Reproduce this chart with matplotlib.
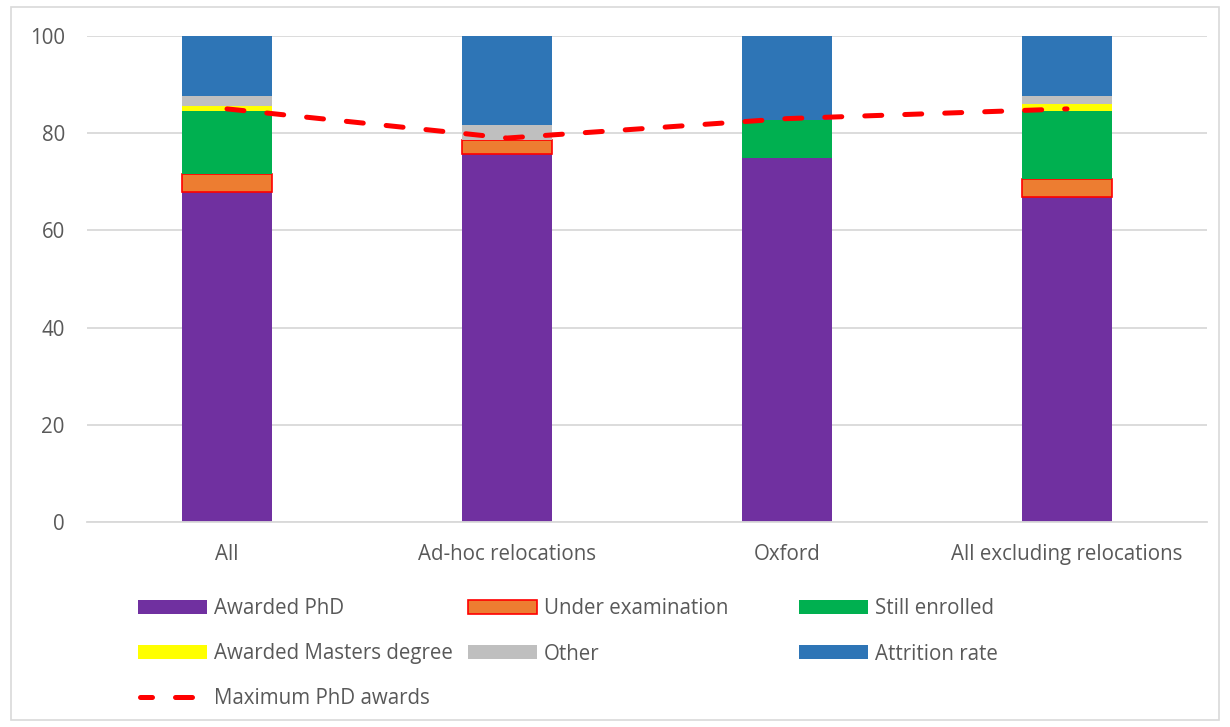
import matplotlib
matplotlib.use("Agg")
import matplotlib.pyplot as plt
from matplotlib.patches import Rectangle
from matplotlib.lines import Line2D
import numpy as np

plt.rcParams['font.family'] = ['Open Sans', 'DejaVu Sans']

categories = ["All", "Ad-hoc relocations", "Oxford", "All excluding relocations"]
awarded_phd = [67.8, 75.8, 74.8, 66.8]
under_exam = [3.8, 2.9, 0.0, 3.8]
still_enrolled = [13.0, 0.0, 7.9, 14.0]
awarded_masters = [1.0, 0.0, 0.0, 1.5]
other = [2.0, 2.9, 0.0, 1.5]
attrition = [12.4, 18.4, 17.3, 12.4]
max_phd = [85.0, 79.0, 83.0, 85.0]

series = [
    ("Awarded PhD", awarded_phd, "#7030A0", None),
    ("Under examination", under_exam, "#ED7D31", "#FF0000"),
    ("Still enrolled", still_enrolled, "#00B050", None),
    ("Awarded Masters degree", awarded_masters, "#FFFF00", None),
    ("Other", other, "#BFBFBF", None),
    ("Attrition rate", attrition, "#2E75B6", None),
]

text_color = "#595959"
grid_color = "#D9D9D9"
fs = 14.8

fig = plt.figure(figsize=(12.3, 7.27), dpi=100)
ax = fig.add_axes([87 / 1230, 1 - 522 / 727, 1120 / 1230, 486 / 727])

x = np.arange(len(categories))
bottom = np.zeros(len(categories))
width = 0.32
for name, vals, color, edge in series:
    vals = np.array(vals)
    if edge:
        edges = [edge if v > 0 else "none" for v in vals]
        ax.bar(x, vals, width, bottom=bottom, color=color, edgecolor=edges,
               linewidth=1.2, zorder=3)
    else:
        ax.bar(x, vals, width, bottom=bottom, color=color, linewidth=0, zorder=3)
    bottom = bottom + vals

ax.plot(x, max_phd, color="#FF0000", linewidth=3.6, linestyle=(0, (3.4, 4.6)),
        dash_capstyle="round", zorder=4)

ax.set_xlim(-0.5, len(categories) - 0.5)
ax.set_ylim(0, 100)
ax.set_yticks(np.arange(0, 101, 20))
ax.set_xticks(x)
ax.set_xticklabels(categories)
ax.yaxis.grid(True, color=grid_color, linewidth=1.3, zorder=0)
ax.set_axisbelow(True)
for s in ["left", "right", "top"]:
    ax.spines[s].set_visible(False)
ax.spines["bottom"].set_color(grid_color)
ax.spines["bottom"].set_linewidth(1.3)
ax.spines["bottom"].set_zorder(5)
ax.tick_params(axis="both", length=0, labelsize=fs, labelcolor=text_color)
ax.tick_params(axis="y", pad=16)
ax.tick_params(axis="x", pad=16)

# legend drawn in pixel coordinates of the figure
W, H = 1230, 727
def fx(px):
    return px / W
def fy(py):
    return 1 - py / H

col_x = [138, 468, 799]
row_y = [607, 652, 697]
legend_items = [
    (0, 0, series[0]), (1, 0, series[1]), (2, 0, series[2]),
    (0, 1, series[3]), (1, 1, series[4]), (2, 1, series[5]),
]
for c, r, (name, _, color, edge) in legend_items:
    fig.patches.append(Rectangle((fx(col_x[c]), fy(row_y[r] + 7)), 69 / W, 14 / H,
                                 transform=fig.transFigure, facecolor=color,
                                 edgecolor=edge if edge else "none",
                                 linewidth=1.2 if edge else 0))
    fig.text(fx(col_x[c] + 76), fy(row_y[r] + 2), name, fontsize=fs,
             color=text_color, va="center", ha="left")

fig.lines.append(Line2D([fx(140), fx(199)], [fy(697), fy(697)],
                        transform=fig.transFigure, color="#FF0000", linewidth=3.6,
                        linestyle=(1.0, (3.4, 4.6)), dash_capstyle="round"))
fig.text(fx(214), fy(699), "Maximum PhD awards", fontsize=fs, color=text_color,
         va="center", ha="left")

# outer chart border
fig.patches.append(Rectangle((fx(11), fy(720)), 1208 / W, 713 / H,
                             transform=fig.transFigure, facecolor="none",
                             edgecolor=grid_color, linewidth=1.2))

fig.savefig("out.png", dpi=100)
